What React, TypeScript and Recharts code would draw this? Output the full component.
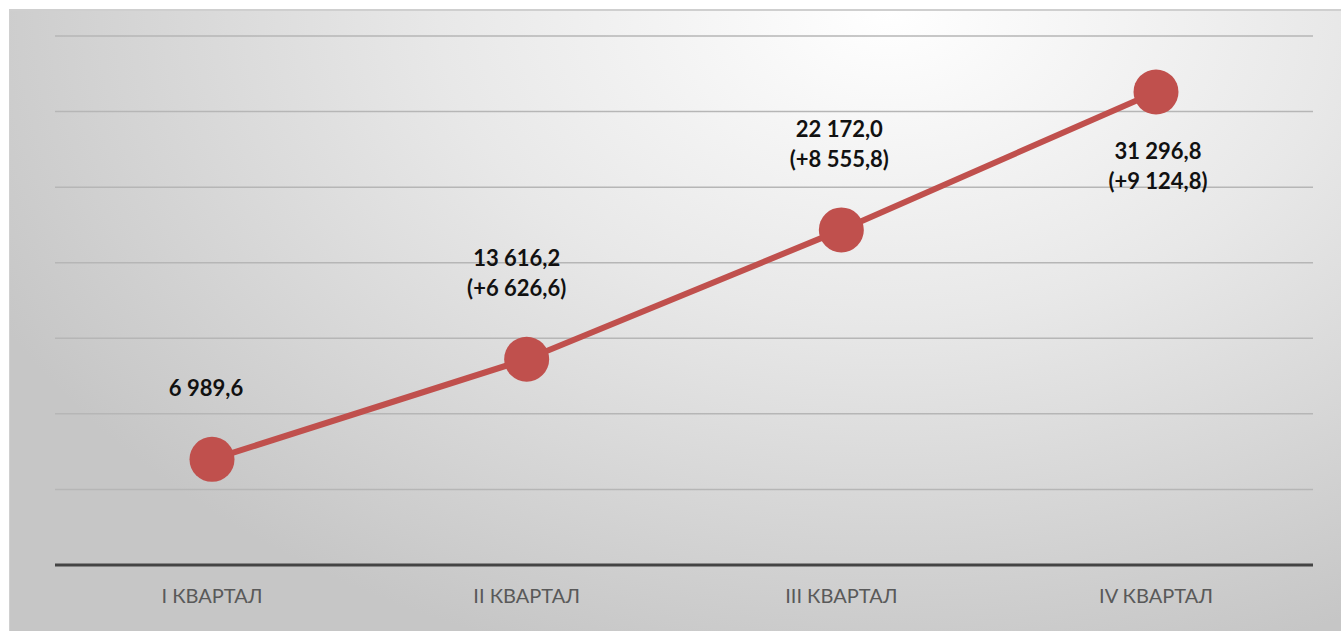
import React from "react";
import { LineChart, Line, XAxis, YAxis, CartesianGrid, LabelList } from "recharts";

const quarters = ["I КВАРТАЛ", "II КВАРТАЛ", "III КВАРТАЛ", "IV КВАРТАЛ"];
const totals = [6989.6, 13616.2, 22172.0, 31296.8];
const increments = [null, 6626.6, 8555.8, 9124.8];
const yTicks = [0, 5000, 10000, 15000, 20000, 25000, 30000, 35000];

const fmt = (v: number) =>
  v
    .toFixed(1)
    .replace(".", ",")
    .replace(/\B(?=(\d{3})+(?!\d))/g, " ");

const data = quarters.map((q, i) => ({ name: q, total: totals[i], inc: increments[i] }));

const PointLabel = (props: any) => {
  const { x, y, index } = props;
  const inc = increments[index];
  const last = index === totals.length - 1;
  const style = { fontFamily: "Lato, 'Open Sans', sans-serif", fontSize: 22, fontWeight: 700, fill: "#111" };
  if (inc === null) {
    return (
      <text x={x - 6} y={y - 63} textAnchor="middle" style={style}>
        {fmt(totals[index])}
      </text>
    );
  }
  const top = last ? y + 67 : y - 93;
  const dx = last ? 2 : index === 1 ? -10 : -2;
  return (
    <text textAnchor="middle" style={style}>
      <tspan x={x + dx} y={top}>{fmt(totals[index])}</tspan>
      <tspan x={x + dx} y={top + 30}>{`(+${fmt(inc)})`}</tspan>
    </text>
  );
};

export default function App() {
  return (
    <div
      style={{
        position: "absolute",
        left: 9,
        top: 9,
        width: 1332,
        height: 622,
        borderTop: "2px solid #cfcfcf",
        borderLeft: "1px solid #d0d0d0",
        boxSizing: "border-box",
        background: "radial-gradient(ellipse 75% 110% at 66% 0%, #ffffff 0%, #e8e8e8 45%, #c6c6c6 100%)",
      }}
    >
      <LineChart
        width={1332}
        height={620}
        data={data}
        margin={{ top: 25, right: 29, left: 45, bottom: 0 }}
      >
        <CartesianGrid vertical={false} stroke="#b6b6b6" strokeWidth={1.5} />
        <XAxis
          dataKey="name"
          padding={{ left: 157, right: 157 }}
          axisLine={{ stroke: "#444", strokeWidth: 3 }}
          tickLine={false}
          height={66}
          tickMargin={18}
          tick={{ fontFamily: "Lato, 'Open Sans', sans-serif", fontSize: 20, fill: "#595959" }}
        />
        <YAxis hide domain={[0, 35000]} ticks={yTicks} />
        <Line
          dataKey="total"
          stroke="#C0504D"
          strokeWidth={6}
          dot={{ r: 22.5, fill: "#C0504D", stroke: "none" }}
          isAnimationActive={false}
        >
          <LabelList dataKey="total" content={PointLabel} />
        </Line>
      </LineChart>
    </div>
  );
}
